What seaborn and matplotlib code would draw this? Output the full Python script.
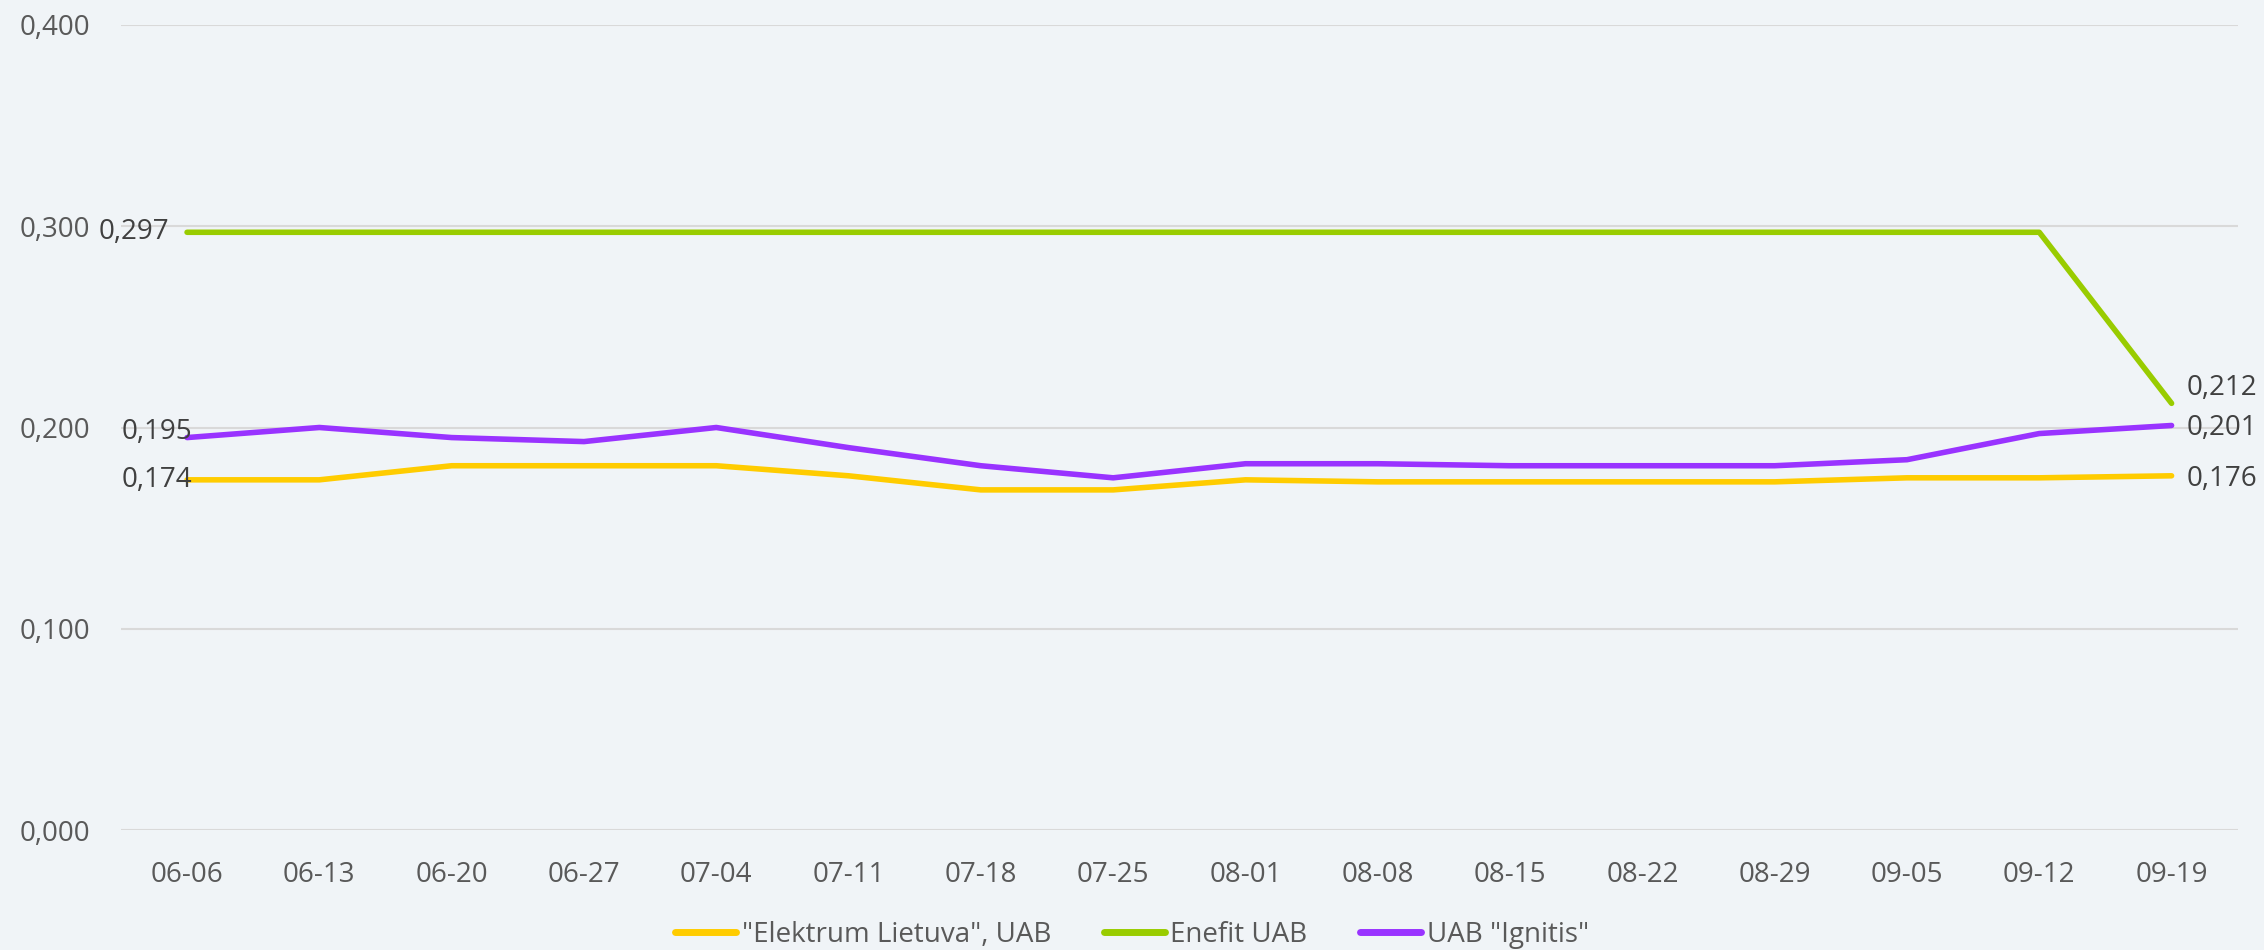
import pandas as pd
import seaborn as sns
import matplotlib.pyplot as plt
from matplotlib.ticker import FuncFormatter

dates = ["06-06", "06-13", "06-20", "06-27", "07-04", "07-11", "07-18", "07-25",
         "08-01", "08-08", "08-15", "08-22", "08-29", "09-05", "09-12", "09-19"]
elektrum = [0.174, 0.174, 0.181, 0.181, 0.181, 0.176, 0.169, 0.169,
            0.174, 0.173, 0.173, 0.173, 0.173, 0.175, 0.175, 0.176]
enefit = [0.297, 0.297, 0.297, 0.297, 0.297, 0.297, 0.297, 0.297,
          0.297, 0.297, 0.297, 0.297, 0.297, 0.297, 0.297, 0.212]
ignitis = [0.195, 0.200, 0.195, 0.193, 0.200, 0.190, 0.181, 0.175,
           0.182, 0.182, 0.181, 0.181, 0.181, 0.184, 0.197, 0.201]
names = ['"Elektrum Lietuva", UAB', 'Enefit UAB', 'UAB "Ignitis"']
colors = ["#FFCC00", "#99CC00", "#9933FF"]

df = pd.concat([
    pd.DataFrame({"date": dates, "price": vals, "company": name})
    for name, vals in zip(names, [elektrum, enefit, ignitis])
])

sns.set_style("white")
bg = "#F0F4F7"
plt.rcParams["font.family"] = ["Open Sans", "DejaVu Sans"]

fig = plt.figure(figsize=(22.64, 9.5), dpi=100, facecolor=bg)
ax = fig.add_axes([0.0534, 0.1263, 0.935, 0.8474])
ax.set_facecolor(bg)

sns.lineplot(data=df, x="date", y="price", hue="company", hue_order=names,
             palette=dict(zip(names, colors)), linewidth=4, ax=ax, sort=False)

ax.set_xlim(-0.5, len(dates) - 0.5)
ax.set_ylim(0, 0.4)
ax.set_yticks([0, 0.1, 0.2, 0.3, 0.4])
ax.yaxis.set_major_formatter(FuncFormatter(lambda v, p: f"{v:.3f}".replace(".", ",")))
ax.grid(axis="y", color="#D9D9D9", linewidth=1.5)
ax.set_axisbelow(True)
for s in ax.spines.values():
    s.set_visible(False)
ax.tick_params(axis="both", length=0, labelsize=20, labelcolor="#595959")
ax.tick_params(axis="y", pad=22)
ax.tick_params(axis="x", pad=22)
ax.set_xlabel("")
ax.set_ylabel("")

fmt = lambda v: f"{v:.3f}".replace(".", ",")
last = len(dates) - 1
# first-point labels (left)
for vals, dx, dy in [(enefit, -13, 0), (ignitis, 4, 4), (elektrum, 4, 0)]:
    ax.annotate(fmt(vals[0]), (0, vals[0]), xytext=(dx, dy), textcoords="offset points",
                ha="right", va="center", fontsize=20, color="#404040")
# last-point labels (right)
for vals, dx, dy in [(enefit, 11, 11), (ignitis, 11, -2), (elektrum, 11, -2)]:
    ax.annotate(fmt(vals[last]), (last, vals[last]), xytext=(dx, dy), textcoords="offset points",
                ha="left", va="center", fontsize=20, color="#404040")

ax.legend_.remove()
handles, labels = ax.get_legend_handles_labels()
leg = fig.legend(handles, labels, loc="lower center", bbox_to_anchor=(0.5, -0.025), ncol=3,
                 frameon=False, handlelength=2.2, handletextpad=0.2,
                 columnspacing=1.9, prop={"size": 20})
for t in leg.get_texts():
    t.set_color("#595959")
for l in leg.get_lines():
    l.set_linewidth(5)

fig.savefig("out.png", dpi=100, facecolor=bg)
